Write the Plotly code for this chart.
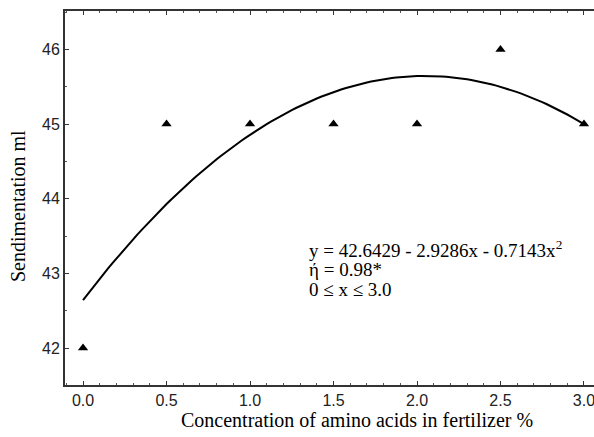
import numpy as np
import plotly.graph_objects as go

# Observed data
conc = [0.0, 0.5, 1.0, 1.5, 2.0, 2.5, 3.0]
sedim = [42, 45, 45, 45, 45, 46, 45]

# Fitted quadratic coefficients (c0, c1, c2) of the drawn regression curve
coef = [42.6429, 2.9286, -0.7143]
x_fit = np.linspace(0, 3, 121)
y_fit = coef[0] + coef[1] * x_fit + coef[2] * x_fit ** 2

x_ticks = [0.0, 0.5, 1.0, 1.5, 2.0, 2.5, 3.0]
y_ticks = [42, 43, 44, 45, 46]

ann_lines = ["y = 42.6429 - 2.9286x - 0.7143x<sup>2</sup>", "ή = 0.98*", "0 ≤ x ≤ 3.0"]
x_title = "Concentration of amino acids in fertilizer %"
y_title = "Sendimentation ml"

W, H = 594, 437
ml, mr, mt, mb = 65, 0, 11, 52
PW, PH = W - ml - mr, H - mt - mb


def px(x):
    return (x - ml) / PW


def py(y):
    return 1 - (y - mt) / PH


serif = "Liberation Serif, Times New Roman, serif"
sans = "Liberation Sans, Arial, sans-serif"

fig = go.Figure()
fig.add_trace(go.Scatter(x=x_fit, y=y_fit, mode="lines",
                         line=dict(color="black", width=2), hoverinfo="skip"))
fig.add_trace(go.Scatter(x=conc, y=sedim, mode="markers", cliponaxis=False,
                         marker=dict(symbol="triangle-up", size=9, color="black")))

for i, t in enumerate(ann_lines):
    fig.add_annotation(x=px(307), y=py(249 + 20 * i), xref="paper", yref="paper",
                       text=t, showarrow=False, xanchor="left", yanchor="middle",
                       font=dict(family=serif, size=19, color="black"))

fig.add_annotation(x=px(357), y=py(420), xref="paper", yref="paper", text=x_title,
                   showarrow=False, xanchor="center", yanchor="middle",
                   font=dict(family=serif, size=20, color="black"))
fig.add_annotation(x=px(18), y=py(206), xref="paper", yref="paper", text=y_title,
                   showarrow=False, xanchor="center", yanchor="middle", textangle=-90,
                   font=dict(family=serif, size=20, color="black"))

fig.update_layout(
    width=W, height=H,
    margin=dict(l=ml, r=mr, t=mt, b=mb),
    paper_bgcolor="white", plot_bgcolor="white",
    showlegend=False,
    xaxis=dict(range=[-0.108, 3.06], tickvals=x_ticks,
               ticktext=[f"{v:.1f}" for v in x_ticks], automargin=False,
               ticklabeloverflow="allow",
               showgrid=False, zeroline=False,
               showline=True, linecolor="#333", linewidth=2, mirror="ticks",
               ticks="inside", ticklen=4, tickcolor="#333", tickwidth=1,
               minor=dict(dtick=0.1, ticks="inside", ticklen=2, tickcolor="#555", showgrid=False),
               tickfont=dict(family=sans, size=16, color="#222")),
    yaxis=dict(range=[41.505, 46.515], tickvals=y_ticks, automargin=False,
               showgrid=False, zeroline=False,
               showline=True, linecolor="#333", linewidth=2,
               ticks="inside", ticklen=4, tickcolor="#333", tickwidth=1,
               minor=dict(dtick=0.5, ticks="inside", ticklen=2, tickcolor="#555", showgrid=False),
               tickfont=dict(family=sans, size=16, color="#222")),
)

fig.write_html("out.html", config={"displayModeBar": False},
               post_script="document.body.style.margin='0';document.body.style.overflow='hidden';")
